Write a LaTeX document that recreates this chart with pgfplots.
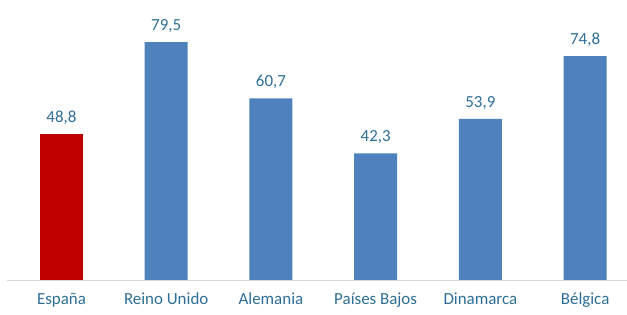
\documentclass[border=0pt]{standalone}
\usepackage{pgfplots}
\pgfplotsset{compat=1.18}
\usepackage{fontspec}
\setmainfont{Carlito}
\definecolor{barblue}{RGB}{79,129,189}
\definecolor{barred}{RGB}{192,0,0}
\definecolor{txtblue}{RGB}{45,110,150}
\begin{document}
\begin{tikzpicture}
\path[use as bounding box] (-7bp,-35bp) rectangle (620bp,280bp);
\begin{axis}[
  at={(0,0)}, anchor=south west,
  scale only axis, width=620bp, height=280bp,
  xmin=-0.52, xmax=5.40, ymin=0, ymax=93.6,
  axis y line=none,
  axis x line*=bottom,
  x axis line style={draw=black!15, -},
  xtick={0,1,2,3,4,5},
  xticklabels={España, Reino Unido, Alemania, Países Bajos, Dinamarca, Bélgica},
  xtick style={draw=none},
  xticklabel style={font=\fontsize{17}{19}\selectfont, text=txtblue, yshift=-5bp},
  ybar, bar width=43bp, bar shift=0pt,
  nodes near coords,
  nodes near coords style={font=\fontsize{17}{19}\selectfont, text=txtblue, yshift=6bp},
  /pgf/number format/.cd, use comma, fixed, fixed zerofill, precision=1, assume math mode=true,
]
\addplot[fill=barred, draw=none] coordinates {(0,48.8)};
\addplot[fill=barblue, draw=none] coordinates {(1,79.5) (2,60.7) (3,42.3) (4,53.9) (5,74.8)};
\end{axis}
\end{tikzpicture}
\end{document}
